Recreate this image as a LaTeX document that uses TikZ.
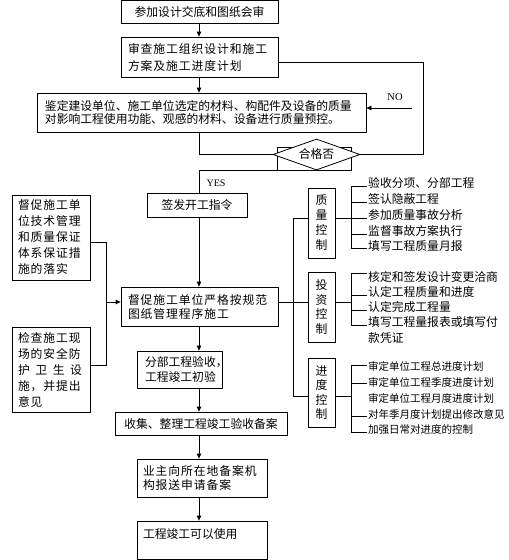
\documentclass[tikz,border=0pt]{standalone}
\usepackage{fontspec}
\setmainfont{Liberation Serif}
\newfontfamily\cjk{Noto Sans CJK SC}
\newfontfamily\cjkw[LetterSpace=8]{Noto Sans CJK SC}
\usetikzlibrary{arrows.meta,shapes.geometric,calc}
\newcommand\myfs[2]{\fontsize{#1}{#2}\selectfont}
\begin{document}
\begin{tikzpicture}[x=1pt,y=-1pt,
  ln/.style={line width=0.8pt, draw=black},
  box/.style={ln, draw, inner sep=0pt, font=\cjk\myfs{11.8}{14}},
  arr/.style={ln, -{Triangle[length=5pt,width=4.5pt]}},
  item/.style={anchor=west, inner sep=0pt, font=\cjk\myfs{11.8}{16}, align=left},
  pitem/.style={anchor=west, inner sep=0pt, font=\cjk\myfs{10.5}{14}},
  ctl/.style={box, minimum width=27, align=center},
  lat/.style={inner sep=0pt, font=\myfs{10}{12}}]
\useasboundingbox (0,0) rectangle (509,560);
\fill[white] (0,0) rectangle (509,560);

% reference coordinates
\coordinate (ax) at (199,0);
\coordinate (nx) at (423,0);
\coordinate (ny) at (0,62.5);
\coordinate (nos) at (412,108);
\coordinate (lv) at (0,302);
\coordinate (sp) at (293,0);
\coordinate (pl) at (0,396);
\coordinate (lx) at (106,0);
\coordinate (l1) at (0,242);
\coordinate (l2) at (0,365);

% main column
\node[box, minimum width=157, minimum height=23] (b1) at (199.5,11.5) {参加设计交底和图纸会审};
\node[box, minimum width=157, minimum height=40, text width=143, inner xsep=7, align=left,
      font=\cjkw\myfs{11.8}{17}] (b2) at (199.5,57) {审查施工组织设计和施工\\方案及施工进度计划};
\node[box, minimum width=329, minimum height=39, text width=313, inner xsep=8, align=left,
      font=\cjk\myfs{11.8}{13.5}] (b3) at (201.5,112.5)
  {鉴定建设单位、施工单位选定的材料、构配件及设备的质量\\对影响工程使用功能、观感的材料、设备进行质量预控。};
\node[ln, draw, minimum width=74, minimum height=23, inner sep=0pt] (db) at (314,158.5) {};
\node[ln, draw, diamond, fill=white, aspect=2.9, minimum width=87, minimum height=31, inner sep=0pt,
      font=\cjk\myfs{11.8}{14}] (d) at (316.5,154.5) {合格否};
\node[box, minimum width=100, minimum height=24] (b4) at (197,205) {签发开工指令};
\node[box, minimum width=157, minimum height=39, text width=143, inner xsep=7, align=left,
      font=\cjkw\myfs{11.8}{14}] (main) at (199.5,306.5) {督促施工单位严格按规范\\图纸管理程序施工};
\node[box, minimum width=85, minimum height=37, text width=69, inner xsep=8, align=left,
      font=\cjk\myfs{11.8}{15}] (fb) at (179.5,369.5) {分部工程验收，\\工程竣工初验};
\node[box, minimum width=172, minimum height=23] (sj) at (201,423.5) {收集、整理工程竣工验收备案};
\node[box, minimum width=130, minimum height=38, text width=118, inner xsep=6, align=left,
      font=\cjkw\myfs{11.8}{14}] (yz) at (202,478) {业主向所在地备案机\\构报送申请备案};
\node[box, minimum width=130, minimum height=38, text width=118, inner xsep=6, align=left,
      font=\cjk\myfs{11.8}{14}] (last) at (202,540) {工程竣工可以使用\\\mbox{}};

% left boxes
\node[box, minimum width=78, minimum height=85, text width=66, inner xsep=6, align=left,
      font=\cjkw\myfs{11.8}{16}] (lb1) at (51,237.5)
  {督促施工单\\位技术管理\\和质量保证\\体系保证措\\施的落实};
\node[box, minimum width=78, minimum height=85, text width=66, inner xsep=6, align=left,
      font=\cjkw\myfs{11.8}{16}] (lb2) at (51,369.5)
  {检查施工现\\场的安全防\\\makebox[64pt][s]{护\hfil 卫\hfil 生\hfil 设}\\施，并提出\\意见};

% control boxes
\node[ctl, minimum height=70, font=\cjk\myfs{11.8}{15}] (qc) at (321.5,223) {质\\量\\控\\制};
\node[ctl, minimum height=70, font=\cjk\myfs{11.8}{14.7}] (ic) at (321.5,307) {投\\资\\控\\制};
\node[ctl, minimum height=69, font=\cjk\myfs{11.8}{14.5}] (pc) at (321.5,392.5) {进\\度\\控\\制};

% items
\node[item] (q1) at (368,183) {验收分项、分部工程};
\node[item] (q2) at (368,199) {签认隐蔽工程};
\node[item] (q3) at (368,215) {参加质量事故分析};
\node[item] (q4) at (368,231) {监督事故方案执行};
\node[item] (q5) at (368,246) {填写工程质量月报};
\node[item] (i1) at (368,277) {核定和签发设计变更洽商};
\node[item] (i2) at (368,292) {认定工程质量和进度};
\node[item] (i3) at (368,307) {认定完成工程量};
\node[item] (i4) at (368,330) {填写工程量报表或填写付\\款凭证};
\node[pitem] (p1) at (368,366) {审定单位工程总进度计划};
\node[pitem] (p2) at (368,382) {审定单位工程季度进度计划};
\node[pitem] (p3) at (368,398) {审定单位工程月度进度计划};
\node[pitem] (p4) at (368,414) {对年季月度计划提出修改意见};
\node[pitem] (p5) at (368,430) {加强日常对进度的控制};

% labels
\node[lat, font=\myfs{10.5}{12}] (no) at (395,97) {NO};
\node[lat] (yes) at (216,183) {YES};

% main flow connectors
\draw[arr] (b1.south -| ax) -- (b2.north -| ax);
\draw[arr] (b2.south -| ax) -- (b3.north -| ax);
\draw[ln] (b3.south -| ax) -- (ax |- d.west) -- (d.west);
\draw[ln] (d.east) -- (nx |- d.east) -- (nx |- ny) -- (b2.east |- ny);
\draw[arr] (nos) -- (b3.east |- nos);
\draw[ln] (d.south) -- (ax |- d.south) -- (b4.north -| ax);
\draw[arr] (b4.south -| ax) -- (main.north -| ax);
\draw[arr] (main.south -| ax) -- (fb.north -| ax);
\draw[arr] (fb.south -| ax) -- (sj.north -| ax);
\draw[arr] (sj.south -| ax) -- (yz.north -| ax);
\draw[arr] (yz.south -| ax) -- (last.north -| ax);

% left connectors
\draw[ln] (lb1.east |- l1) -- (lx |- l1) -- (lx |- l2) -- (lb2.east |- l2);
\draw[arr] (lx |- lv) -- (main.west |- lv);

% right spine
\coordinate (qk) at ($(q3.west)+(-17,3)$);
\coordinate (pk) at ($(p3.west)+(-17,-2)$);
\draw[ln] (main.east |- lv) -- (ic.west |- lv);
\draw[ln] (qc.west |- qk) -- (sp |- qk) -- (sp |- pk) -- (pc.west |- pk);

% quality bracket
\draw[ln] (qc.east |- qk) -- (qk);
\draw[ln] ($(q1.west)+(-1,3)$) -- ($(q1.west)+(-17,3)$) -- ($(q5.west)+(-17,2)$) -- ($(q5.west)+(-1,2)$);
\foreach \n in {q2,q3,q4} \draw[ln] ($(\n.west)+(-17,3)$) -- ($(\n.west)+(-1,3)$);

% investment bracket
\coordinate (ik) at ($(i1.west)+(-17,25)$);
\draw[ln] (ic.east |- ik) -- (ik);
\draw[ln] ($(i1.west)+(-1,-4)$) -- ($(i1.west)+(-17,-4)$) -- ($(i4.west)+(-17,-5)$) -- ($(i4.west)+(-1,-5)$);
\foreach \n in {i2,i3} \draw[ln] ($(\n.west)+(-17,3)$) -- ($(\n.west)+(-1,3)$);

% progress bracket
\draw[ln] (pc.east |- pk) -- (pk);
\draw[ln] ($(p1.west)+(-1,-1)$) -- ($(p1.west)+(-17,-1)$) -- ($(p5.west)+(-17,2)$) -- ($(p5.west)+(-1,2)$);
\draw[ln] ($(p2.west)+(-17,1)$) -- ($(p2.west)+(-1,1)$);
\draw[ln] ($(p4.west)+(-17,2)$) -- ($(p4.west)+(-1,2)$);
\end{tikzpicture}
\end{document}
